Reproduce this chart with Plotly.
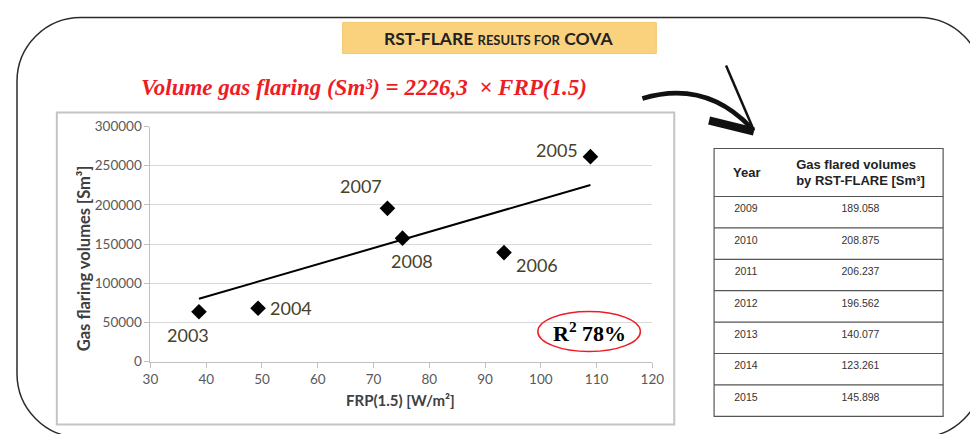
import plotly.graph_objects as go
import numpy as np

W, H = 978, 434
# the page shows the figure at this offset/size; used to place things in screen pixels
OX, OY, FW, FH = 14, 16.5, 962, 418

# scatter data
years = ["2003", "2004", "2005", "2006", "2007", "2008"]
frp = [38.7, 49.3, 108.9, 93.4, 72.5, 75.2]
volume = [63500, 68000, 261500, 139000, 195500, 157500]

# table data
table_years = ["2009", "2010", "2011", "2012", "2013", "2014", "2015"]
table_volumes = ["189.058", "208.875", "206.237", "196.562", "140.077", "123.261", "145.898"]

x_ticks = [30, 40, 50, 60, 70, 80, 90, 100, 110, 120]
y_ticks = [0, 50000, 100000, 150000, 200000, 250000, 300000]

LABEL_COL = "#46422a"
TICK_COL = "#595959"
RED = "#ee1c25"

# label offsets in pixels from each marker
label_shift = {
    "2003": (-11, -23), "2004": (33, 0), "2005": (-33, 7),
    "2006": (33, -12), "2007": (-26, 22), "2008": (9, -23),
}


def px(x):
    return (x - OX) / FW


def py(y):
    return 1 - (y - OY) / FH


def path(cmds):
    out = []
    for c in cmds:
        if isinstance(c, str):
            out.append(c)
        else:
            out.append(f"{px(c[0]):.5f},{py(c[1]):.5f}")
    return " ".join(out)


def note(x, y, text, font, **kw):
    return dict(x=px(x), y=py(y), xref="paper", yref="paper", text=text,
                showarrow=False, xanchor="center", yanchor="middle",
                font=font, **kw)


# fitted trend through origin
xa = np.array(frp)
ya = np.array(volume)
slope = (xa * ya).sum() / (xa * xa).sum()
trend_x = [xa.min(), xa.max()]
trend_y = [slope * v for v in trend_x]

fig = go.Figure()

fig.add_trace(go.Scatter(
    x=trend_x, y=trend_y, mode="lines",
    line=dict(color="black", width=2), hoverinfo="skip", showlegend=False,
))
fig.add_trace(go.Scatter(
    x=frp, y=volume, mode="markers",
    marker=dict(symbol="diamond", size=12, color="black"),
    text=years, showlegend=False,
))

HEADER_H = 48
ROW_H = 31.4
T_LEFT, T_RIGHT, T_TOP = 715, 945, 149
T_BOTTOM = T_TOP + HEADER_H + ROW_H * len(table_years)
YEAR_COL_W = 64

fig.add_trace(go.Table(
    domain=dict(x=[px(T_LEFT), px(T_RIGHT)], y=[py(T_BOTTOM + 2), py(T_TOP)]),
    columnwidth=[YEAR_COL_W, 166],
    header=dict(
        values=["", "<b>Gas flared volumes<br>by RST-FLARE [Sm³]</b>"],
        align="center", height=HEADER_H,
        fill_color="white", line=dict(color="white", width=0),
        font=dict(family="Liberation Sans", size=13, color="#222222"),
    ),
    cells=dict(
        values=[table_years, table_volumes],
        align="center", height=ROW_H,
        fill_color="white", line=dict(color="white", width=0),
        font=dict(family="Liberation Sans", size=10.5, color="#333333"),
    ),
))

shapes = []

# outer rounded frame
L, T, R, B, r = 15, 18, 985, 438, 64
k = 0.5523 * r
shapes.append(dict(
    type="path", xref="paper", yref="paper",
    path=path([
        "M", (L + r, T), "L", (R - r, T),
        "C", (R - r + k, T), (R, T + r - k), (R, T + r),
        "L", (R, B - r),
        "C", (R, B - r + k), (R - r + k, B), (R - r, B),
        "L", (L + r, B),
        "C", (L + r - k, B), (L, B - r + k), (L, B - r),
        "L", (L, T + r),
        "C", (L, T + r - k), (L + r - k, T), (L + r, T), "Z",
    ]),
    line=dict(color="#2b2b2b", width=1.5),
))

# chart frame
shapes.append(dict(type="rect", xref="paper", yref="paper",
                   x0=px(55), x1=px(675), y0=py(425), y1=py(113),
                   line=dict(color="#c4c4c4", width=2), layer="below"))

# title box
shapes.append(dict(type="rect", xref="paper", yref="paper",
                   x0=px(342), x1=px(657), y0=py(54), y1=py(23),
                   fillcolor="#fad27e", line=dict(color="#f4c86e", width=1),
                   layer="below"))

# R² ellipse
shapes.append(dict(type="circle", xref="paper", yref="paper",
                   x0=px(538), x1=px(641), y0=py(352), y1=py(312),
                   line=dict(color=RED, width=1.5)))

# brush arrow
shapes.append(dict(type="path", xref="paper", yref="paper",
                   path=path(["M", (643, 99), "Q", (706, 80), (752, 128)]),
                   line=dict(color="#111111", width=4.5)))
shapes.append(dict(type="path", xref="paper", yref="paper",
                   path=path(["M", (727, 66), "L", (755, 131)]),
                   line=dict(color="#111111", width=2.5)))
shapes.append(dict(type="path", xref="paper", yref="paper",
                   path=path(["M", (710, 121), "L", (755, 132)]),
                   line=dict(color="#111111", width=8)))

# table lines
shapes.append(dict(type="rect", xref="paper", yref="paper",
                   x0=px(T_LEFT), x1=px(T_RIGHT), y0=py(T_BOTTOM), y1=py(T_TOP),
                   line=dict(color="#555555", width=1.2)))
for i in range(len(table_years)):
    yy = T_TOP + HEADER_H + ROW_H * i
    shapes.append(dict(type="line", xref="paper", yref="paper",
                       x0=px(T_LEFT), x1=px(T_RIGHT), y0=py(yy), y1=py(yy),
                       line=dict(color="#555555", width=1.2)))

annotations = []
for yr, xv, yv in zip(years, frp, volume):
    dx, dy = label_shift[yr]
    annotations.append(dict(
        x=xv, y=yv, xref="x", yref="y", text=yr, showarrow=False,
        xanchor="center", yanchor="middle", xshift=dx, yshift=dy,
        font=dict(family="Lato", size=18, color=LABEL_COL),
    ))

annotations += [
    note(499, 39, "<b>RST-FLARE <span style='font-size:13px'>RESULTS FOR</span> COVA</b>",
         dict(family="Lato", size=17.5, color="#222222")),
    note(363, 88, "<b>Volume gas flaring (Sm³) = 2226,3  × FRP(1.5)</b>",
         dict(family="Liberation Serif", size=23, color=RED, style="italic")),
    note(590, 332, "<b>R<sup>2</sup> 78%</b>",
         dict(family="Liberation Serif", size=22, color="black")),
    note(83, 259, "<b>Gas flaring volumes [Sm³]</b>",
         dict(family="Lato", size=16.5, color="#404040"), textangle=-90),
    note(400, 400, "<b>FRP(1.5) [W/m²]</b>",
         dict(family="Lato", size=15, color="#404040")),
    # header of the year column, centred in the header row
    note(T_LEFT + YEAR_COL_W / 2 + 0.5, T_TOP + HEADER_H / 2, "<b>Year</b>",
         dict(family="Liberation Sans", size=13, color="#222222")),
]

fig.update_layout(
    width=W, height=H,
    autosize=False,
    margin=dict(l=0, r=0, t=0, b=0),
    paper_bgcolor="white", plot_bgcolor="white",
    showlegend=False,
    shapes=shapes,
    annotations=annotations,
    xaxis=dict(
        domain=[px(149), px(653)], range=[30, 120],
        tickvals=x_ticks, showgrid=False, zeroline=False,
        showline=True, linecolor="#bfbfbf", linewidth=1,
        ticks="outside", ticklen=5, tickcolor="#bfbfbf",
        tickfont=dict(family="Lato", size=13.5, color=TICK_COL),
    ),
    yaxis=dict(
        domain=[py(362), py(127)], range=[0, 300000],
        tickvals=y_ticks, tickformat="d",
        showgrid=True, gridcolor="#d9d9d9", gridwidth=1, zeroline=False,
        showline=True, linecolor="#bfbfbf", linewidth=1,
        ticks="outside", ticklen=5, tickcolor="#bfbfbf",
        tickfont=dict(family="Lato", size=13.5, color=TICK_COL),
    ),
)

fig.write_html("out.html")
